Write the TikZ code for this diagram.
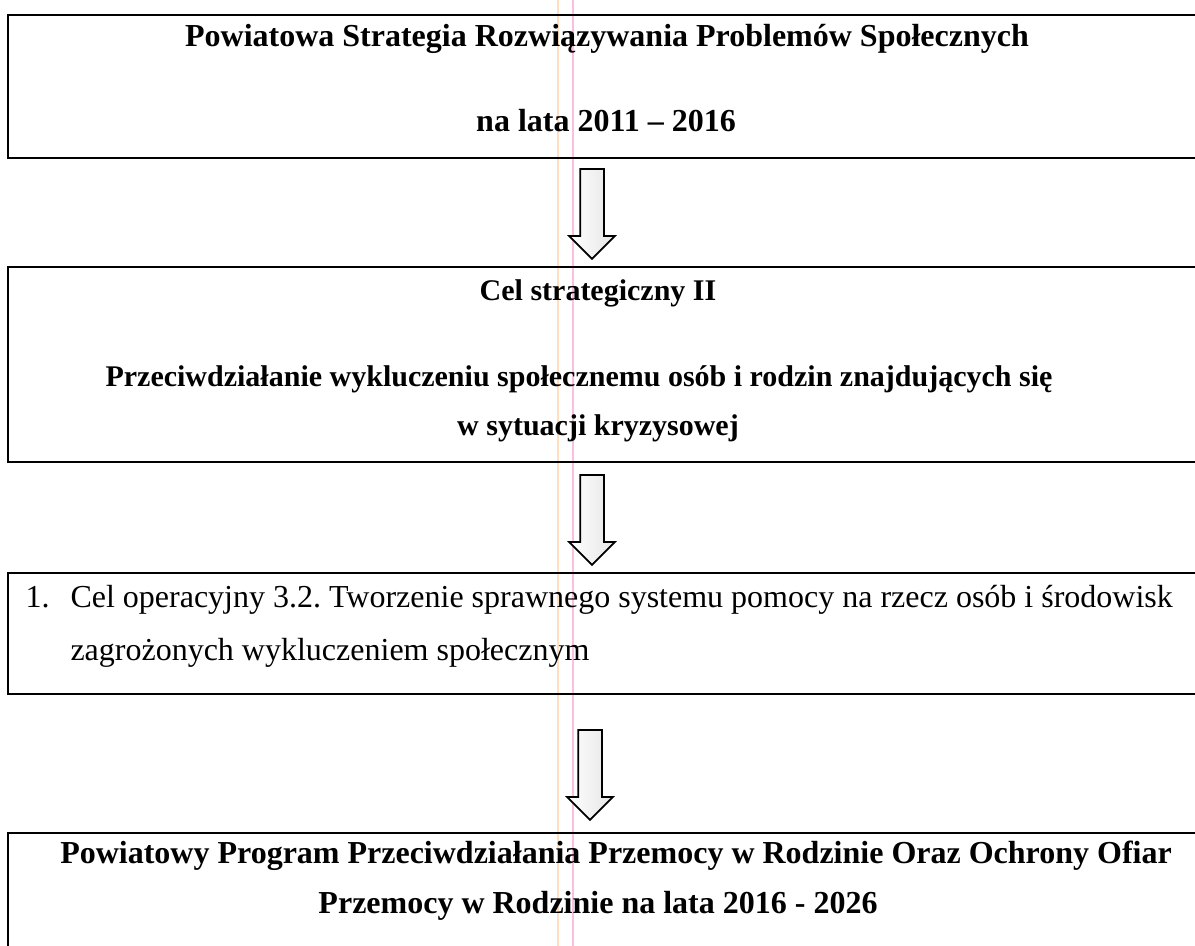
\documentclass[tikz,border=0pt]{standalone}
\usepackage{fontspec}
\setmainfont{Liberation Serif}
\usetikzlibrary{shapes.arrows,calc}
\frenchspacing

\tikzset{
  box/.style={draw,line width=0.8pt,inner sep=0pt},
  headline/.style={anchor=base,inner sep=0pt,font=\fontsize{12.8pt}{15pt}\selectfont\bfseries},
  smallheadline/.style={headline,font=\fontsize{12pt}{14pt}\selectfont\bfseries},
  bodyline/.style={anchor=base west,inner sep=0pt,font=\fontsize{12.8pt}{15pt}\selectfont},
  blockarrow/.style={single arrow,draw,line width=0.7pt,rotate=-90,
    single arrow head extend=4.4pt,single arrow head indent=0pt,
    inner xsep=0pt,inner ysep=4.4pt,minimum height=36pt,
    left color=white,right color=gray!20},
  scanline/.style={line width=0.5pt}
}

\begin{document}
\begin{tikzpicture}[x=0.4pt,y=-0.4pt]
\useasboundingbox (0,0) rectangle (1195,946);

% faint lines of the scan
\draw[scanline,orange!25] (558,0) -- (558,946);
\draw[scanline,magenta!25] (573,0) -- (573,946);

% boxes
\node[box,minimum width=478.8pt,minimum height=57.2pt] (strat) at (606.5,86.5) {};
\node[box,minimum width=478.8pt,minimum height=78pt] (celstr) at (606.5,364.5) {};
\node[box,minimum width=478.8pt,minimum height=48.4pt] (celop) at (606.5,633.5) {};
\node[box,minimum width=478.8pt,minimum height=58.8pt] (program) at (606.5,906.5) {};

% texts
\node[headline] (stratA) at (607,47) {Powiatowa Strategia Rozwiązywania Problemów Społecznych};
\node[headline] (stratB) at (606,132) {na lata 2011 -- 2016};

\node[smallheadline] (celstrA) at (598,301) {Cel strategiczny II};
\node[smallheadline] (celstrB) at (579,386) {Przeciwdziałanie wykluczeniu społecznemu osób i rodzin znajdujących się};
\node[smallheadline] (celstrC) at (598,435) {w sytuacji kryzysowej};

\node[bodyline] (celopN) at (25,607) {1.};
\node[bodyline] (celopA) at (70,607) {Cel operacyjny 3.2. Tworzenie sprawnego systemu pomocy na rzecz osób i środowisk};
\node[bodyline] (celopB) at (70,660) {zagrożonych wykluczeniem społecznym};

\node[headline] (programA) at (616,863) {Powiatowy Program Przeciwdziałania Przemocy w Rodzinie Oraz Ochrony Ofiar};
\node[headline] (programB) at (598,913) {Przemocy w Rodzinie na lata 2016 - 2026};

% arrows between the boxes
\node[blockarrow] (arrA) at ($(strat.south)!0.5!(celstr.north)+(-5.8pt,1.8pt)$) {};
\node[blockarrow] (arrB) at ($(celstr.south)!0.5!(celop.north)+(-5.8pt,1.4pt)$) {};
\node[blockarrow] (arrC) at ($(celop.south)!0.5!(program.north)+(-6.6pt,-2.2pt)$) {};
\end{tikzpicture}
\end{document}
